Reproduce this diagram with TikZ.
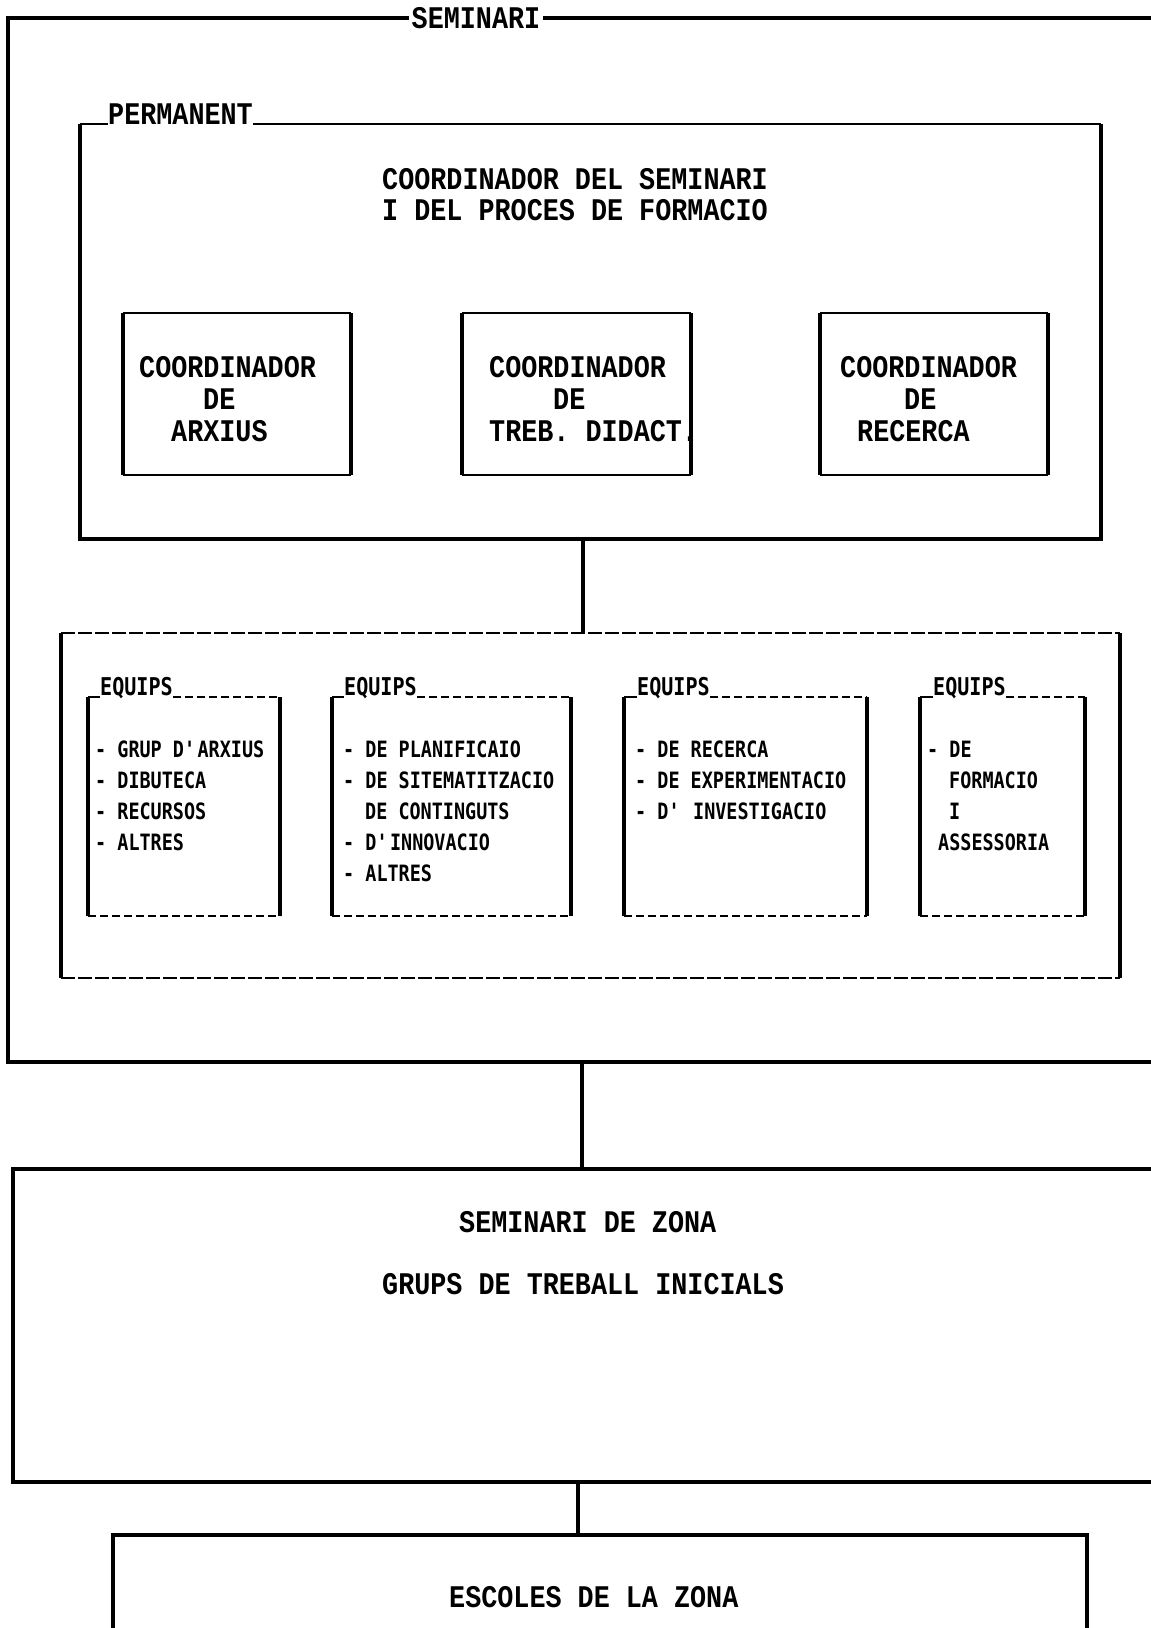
\documentclass[tikz,border=0pt]{standalone}
\usepackage{fontspec}
\newfontfamily\nlqfont[FakeStretch=0.85]{Liberation Mono}
\newfontfamily\dotfont[FakeStretch=0.82]{DejaVu Sans Mono}
\tikzset{
  thickside/.style={line width=4.5pt},
  midside/.style={line width=3.5pt},
  thinside/.style={line width=1.6pt},
  dashside/.style={line width=2.2pt, dash pattern=on 8pt off 4pt},
  longdash/.style={line width=1.6pt, dash pattern=on 14pt off 3pt},
  frame/.style={draw=none, inner sep=0pt, outer sep=0pt, anchor=north west},
  nlq/.style={font=\nlqfont\bfseries\fontsize{31.5}{32}\selectfont, inner sep=0pt, anchor=base west},
  dotm/.style={font=\dotfont\bfseries\fontsize{22.5}{31}\selectfont, inner sep=0pt, anchor=base west},
  teamlbl/.style={font=\dotfont\bfseries\fontsize{24.5}{31}\selectfont, inner sep=0pt, anchor=base west},
  link/.style={line width=3.5pt},
}
\begin{document}
\begin{tikzpicture}[x=1pt,y=-1pt]
\useasboundingbox (0,0) rectangle (1151,1628);
\clip (0,0) rectangle (1151,1628);
\fill[white] (0,0) rectangle (1151,1628);

% ---------- outer SEMINARI frame ----------
\node[frame, minimum width=1160pt, minimum height=1044pt] (sem) at (8,18) {};
\draw[thickside] (sem.north east) -- (sem.north west) -- (sem.south west) -- (sem.south east);
\node[nlq, anchor=base, fill=white, inner sep=3pt] (semlbl) at (476,28) {SEMINARI};

% ---------- PERMANENT frame ----------
\node[frame, minimum width=1021pt, minimum height=415pt] (perm) at (80,124) {};
\node[nlq] (permlbl) at (108,124) {PERMANENT};
\draw[thinside] (perm.north west) -- (permlbl.west |- perm.north);
\draw[thinside] (permlbl.east |- perm.north) -- (perm.north east);
\draw[midside] (perm.north west) -- (perm.south west) -- (perm.south east) -- (perm.north east);

\node[nlq] (title1) at (382,189) {COORDINADOR DEL SEMINARI};
\node[nlq] (title2) at (382,220) {I DEL PROCES DE FORMACIO};

% coordinator boxes
\node[frame, minimum width=228pt, minimum height=162pt] (c1) at (123,313) {};
\node[frame, minimum width=229pt, minimum height=162pt] (c2) at (462,313) {};
\node[frame, minimum width=228pt, minimum height=162pt] (c3) at (820,313) {};
\foreach \b in {c1,c2,c3}{
  \draw[midside] (\b.north west) -- (\b.south west);
  \draw[midside] (\b.north east) -- (\b.south east);
  \draw[thinside] (\b.north west) -- (\b.north east);
  \draw[thinside] (\b.south west) -- (\b.south east);
}
\node[nlq] (c1a) at (139,377) {COORDINADOR};
\node[nlq] (c1b) at (203,409) {DE};
\node[nlq] (c1c) at (171,441) {ARXIUS};
\node[nlq] (c2a) at (489,377) {COORDINADOR};
\node[nlq] (c2b) at (553,409) {DE};
\node[nlq] (c2c) at (489,441) {TREB. DIDACT.};
\node[nlq] (c3a) at (840,377) {COORDINADOR};
\node[nlq] (c3b) at (904,409) {DE};
\node[nlq] (c3c) at (857,441) {RECERCA};

% ---------- EQUIPS frame ----------
\node[frame, minimum width=1059pt, minimum height=345pt] (eqo) at (61,633) {};
\draw[thickside] (eqo.north west) -- (eqo.south west);
\draw[thickside] (eqo.north east) -- (eqo.south east);
\draw[longdash] (eqo.north west) -- (eqo.north east);
\draw[longdash] (eqo.south west) -- (eqo.south east);

\node[frame, minimum width=192pt, minimum height=219pt] (e1) at (88,697) {};
\node[frame, minimum width=239pt, minimum height=219pt] (e2) at (332,697) {};
\node[frame, minimum width=243pt, minimum height=219pt] (e3) at (624,697) {};
\node[frame, minimum width=165pt, minimum height=219pt] (e4) at (920,697) {};
\node[teamlbl] (l1) at (100,695) {EQUIPS};
\node[teamlbl] (l2) at (344,695) {EQUIPS};
\node[teamlbl] (l3) at (637,695) {EQUIPS};
\node[teamlbl] (l4) at (933,695) {EQUIPS};
\foreach \b/\l in {e1/l1,e2/l2,e3/l3,e4/l4}{
  \draw[midside] (\b.north west) -- (\b.south west);
  \draw[midside] (\b.north east) -- (\b.south east);
  \draw[thinside] (\b.north west) -- (\l.west |- \b.north);
  \draw[dashside] (\l.east |- \b.north) -- (\b.north east);
  \draw[dashside] (\b.south west) -- (\b.south east);
}
% texts of team boxes
\node[dotm] (t1a) at (95,757) {- GRUP D\textquotesingle ARXIUS};
\node[dotm] (t1b) at (95,788) {- DIBUTECA};
\node[dotm] (t1c) at (95,819) {- RECURSOS};
\node[dotm] (t1d) at (95,850) {- ALTRES};

\node[dotm] (t2a) at (343,757) {- DE PLANIFICAIO};
\node[dotm] (t2b) at (343,788) {- DE SITEMATITZACIO};
\node[dotm] (t2c) at (365,819) {DE CONTINGUTS};
\node[dotm] (t2d) at (343,850) {- D\textquotesingle INNOVACIO};
\node[dotm] (t2e) at (343,881) {- ALTRES};

\node[dotm] (t3a) at (635,757) {- DE RECERCA};
\node[dotm] (t3b) at (635,788) {- DE EXPERIMENTACIO};
\node[dotm] (t3c) at (635,819) {- D\textquotesingle\ INVESTIGACIO};

\node[dotm] (t4a) at (927,757) {- DE};
\node[dotm] (t4b) at (949,788) {FORMACIO};
\node[dotm] (t4c) at (949,819) {I};
\node[dotm] (t4d) at (938,850) {ASSESSORIA};

% ---------- SEMINARI DE ZONA ----------
\node[frame, minimum width=1147pt, minimum height=313pt] (zona) at (13,1169) {};
\draw[thickside] (zona.north east) -- (zona.north west) -- (zona.south west) -- (zona.south east);
\node[nlq] (z1) at (459,1232) {SEMINARI DE ZONA};
\node[nlq] (z2) at (382,1294) {GRUPS DE TREBALL INICIALS};

% ---------- ESCOLES ----------
\node[frame, minimum width=974pt, minimum height=110pt] (esc) at (113,1535) {};
\draw[thickside] (esc.south west) -- (esc.north west) -- (esc.north east) -- (esc.south east);
\node[nlq] (s1) at (449,1607) {ESCOLES DE LA ZONA};

% ---------- connectors ----------
\coordinate (p-out) at (583,539);
\coordinate (s-out) at (582,1062);
\coordinate (z-out) at (578,1482);
\draw[link] (p-out) -- (p-out |- eqo.north);
\draw[link] (s-out) -- (s-out |- zona.north);
\draw[link] (z-out) -- (z-out |- esc.north);
\end{tikzpicture}
\end{document}
